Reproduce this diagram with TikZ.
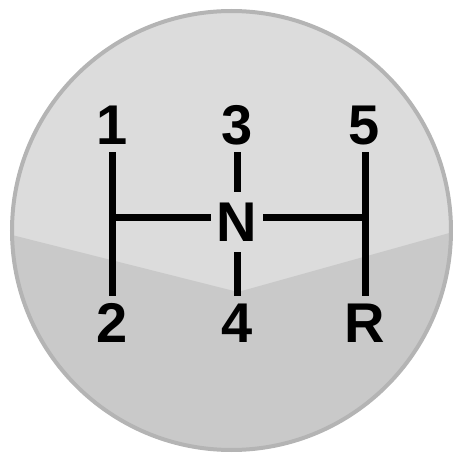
\documentclass[tikz,border=0pt]{standalone}
\usepackage{fontspec}
\setmainfont{Liberation Sans}
\definecolor{knobtop}{HTML}{DCDCDC}
\definecolor{knobbot}{HTML}{C9C9C9}
\definecolor{knobrim}{HTML}{B4B4B4}
\begin{document}
\begin{tikzpicture}[x=1pt,y=1pt,
  gear/.style={font=\fontsize{56}{56}\selectfont\bfseries, text height=40pt, text depth=0pt,
    inner xsep=0pt, inner ysep=7pt, anchor=base},
  neutral/.style={font=\fontsize{56}{56}\selectfont\bfseries, text height=40pt, text depth=0pt,
    inner xsep=6pt, inner ysep=10pt, anchor=base},
  gate/.style={line width=7pt, black}]
\useasboundingbox (0,0) rectangle (453,456);
% knob
\fill[knobtop] (231.5,225.5) circle (219.5);
\begin{scope}
  \clip (231.5,225.5) circle (219.5);
  \fill[knobbot] (0,224) -- (238,164) -- (453,224) -- (453,0) -- (0,0) -- cycle;
\end{scope}
\draw[knobrim, line width=4pt] (231.5,225.5) circle (219.5);
% labels
\node[gear] (g1) at (112,311) {1};
\node[gear] (g3) at (237,311) {3};
\node[gear] (g5) at (364,311) {5};
\node[gear] (g2) at (112,113) {2};
\node[gear] (g4) at (237,113) {4};
\node[gear] (gR) at (365,113) {R};
\node[neutral] (gN) at (237,214) {N};
\coordinate (jl) at (112,238);
\coordinate (jr) at (365,238);
% gate lines
\draw[gate] (g1.south -| jl) -- (g2.north -| jl);
\draw[gate] (g5.south -| jr) -- (gR.north -| jr);
\draw[gate] (g3.south) -- (gN.north);
\draw[gate] (gN.south) -- (g4.north);
\draw[gate] (jl) -- (gN.west |- jl);
\draw[gate] (gN.east |- jr) -- (jr);
\end{tikzpicture}
\end{document}
